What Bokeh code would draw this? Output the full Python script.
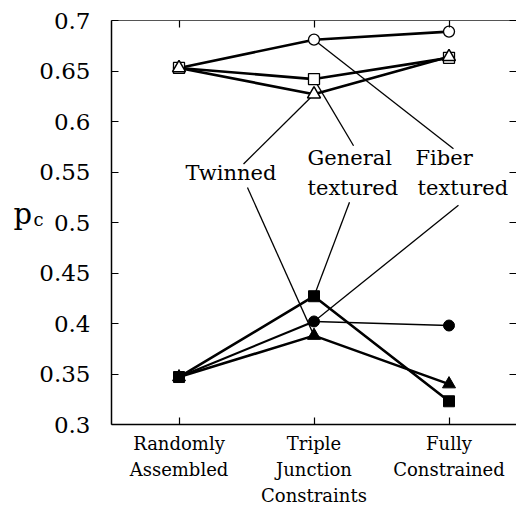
from bokeh.plotting import figure
from bokeh.models import Range1d, LinearAxis, FixedTicker, Label
from bokeh.embed import file_html
from bokeh.resources import INLINE

# ---- data ----
categories = ["Randomly\nAssembled", "Triple\nJunction\nConstraints", "Fully\nConstrained"]
cat_x = [0, 1, 2]
y_ticks = [0.3, 0.35, 0.4, 0.45, 0.5, 0.55, 0.6, 0.65, 0.7]
y_tick_labels = ["0.3", "0.35", "0.4", "0.45", "0.5", "0.55", "0.6", "0.65", "0.7"]

fiber_open = [0.653, 0.681, 0.689]      # open circles
general_open = [0.653, 0.642, 0.663]    # open squares
twinned_open = [0.653, 0.627, 0.664]    # open triangles
fiber_filled = [0.347, 0.402, 0.398]    # filled circles
general_filled = [0.347, 0.427, 0.323]  # filled squares
twinned_filled = [0.347, 0.388, 0.340]  # filled triangles

FONT = "DejaVu Serif"

p = figure(width=516, height=512, output_backend="svg", toolbar_location=None,
           x_range=Range1d(-0.5, 2.5), y_range=Range1d(0.3, 0.7),
           x_axis_type=None, y_axis_type=None,
           min_border_left=111, min_border_right=0, min_border_top=20, min_border_bottom=88)
p.outline_line_color = None
p.grid.visible = False
p.background_fill_color = "white"
p.border_fill_color = "white"

def style_axis(ax, labels=True, line_color="black", lw=1.5):
    ax.major_tick_in = 7
    ax.major_tick_out = 0
    ax.minor_tick_line_color = None
    ax.major_tick_line_color = "black"
    ax.major_tick_line_width = 1.2
    ax.axis_line_color = line_color
    ax.axis_line_width = lw
    if not labels:
        ax.major_label_text_font_size = "0px"
        ax.major_label_standoff = 0

left = LinearAxis(ticker=FixedTicker(ticks=y_ticks),
                  major_label_overrides={t: s for t, s in zip(y_ticks, y_tick_labels)})
style_axis(left)
left.major_label_text_font = FONT
left.major_label_text_font_size = "23px"
left.major_label_text_color = "black"
left.major_label_standoff = 21
p.add_layout(left, "left")

right = LinearAxis(ticker=FixedTicker(ticks=y_ticks))
style_axis(right, labels=False, line_color=None)
p.add_layout(right, "right")

bottom = LinearAxis(ticker=FixedTicker(ticks=cat_x),
                    major_label_overrides={x: c for x, c in zip(cat_x, categories)})
style_axis(bottom)
bottom.major_label_text_font = FONT
bottom.major_label_text_font_size = "18px"
bottom.major_label_text_color = "black"
bottom.major_label_text_line_height = 1.24
bottom.major_label_standoff = 8
p.add_layout(bottom, "below")

top = LinearAxis(ticker=FixedTicker(ticks=cat_x))
style_axis(top, labels=False, line_color="#555555", lw=1.2)
p.add_layout(top, "above")

# ---- callout lines (label anchor -> data point at Triple Junction) ----
callouts = [
    ((0.478, 0.558), (1, twinned_open[1])),
    ((0.507, 0.5347), (1, twinned_filled[1])),
    ((1.293, 0.576), (1, general_open[1])),
    ((1.263, 0.520), (1, general_filled[1])),
    ((2.033, 0.573), (1, fiber_open[1])),
    ((2.07, 0.517), (1, fiber_filled[1])),
]
p.segment(x0=[a[0] for a, b in callouts], y0=[a[1] for a, b in callouts],
          x1=[b[0] for a, b in callouts], y1=[b[1] for a, b in callouts],
          line_color="black", line_width=1.3)

# ---- series lines ----
for ys in [fiber_open, general_open, twinned_open, general_filled, twinned_filled]:
    p.line(cat_x, ys, line_color="black", line_width=2.6)
p.line(cat_x[:2], fiber_filled[:2], line_color="black", line_width=2.2)
p.line(cat_x[1:], fiber_filled[1:], line_color="black", line_width=1.5)

# ---- markers ----
p.scatter(cat_x, fiber_open, marker="circle", size=11, fill_color="white", line_color="black", line_width=1.3)
p.scatter(cat_x, general_open, marker="square", size=11, fill_color="white", line_color="black", line_width=1.3)
p.scatter(cat_x, twinned_open, marker="triangle", size=13, fill_color="white", line_color="black", line_width=1.5)
p.scatter(cat_x, fiber_filled, marker="circle", size=11, fill_color="black", line_color="black")
p.scatter(cat_x, general_filled, marker="square", size=11, fill_color="black", line_color="black")
p.scatter(cat_x, twinned_filled, marker="triangle", size=13, fill_color="black", line_color="black")

# ---- annotation texts ----
def add_text(x, y, t, size="21px", baseline="middle", align="left", panel=None):
    lab = Label(x=x, y=y, text=t, text_font=FONT, text_font_size=size,
                text_baseline=baseline, text_align=align, text_color="black")
    if panel:
        p.add_layout(lab, panel)
    else:
        p.add_layout(lab)

add_text(0.048, 0.5495, "Twinned")
add_text(0.952, 0.5634, "General")
add_text(0.952, 0.5337, "textured")
add_text(1.752, 0.5634, "Fiber")
add_text(1.767, 0.5337, "textured")

# y-axis label p_c, in a side panel so that it is not clipped to the frame
add_text(-1.226, 0.508, "p", size="29px", baseline="alphabetic", panel="left")
add_text(-1.078, 0.503, "c", size="18px", baseline="alphabetic", panel="left")

open("out.html", "w").write(file_html(p, INLINE))
